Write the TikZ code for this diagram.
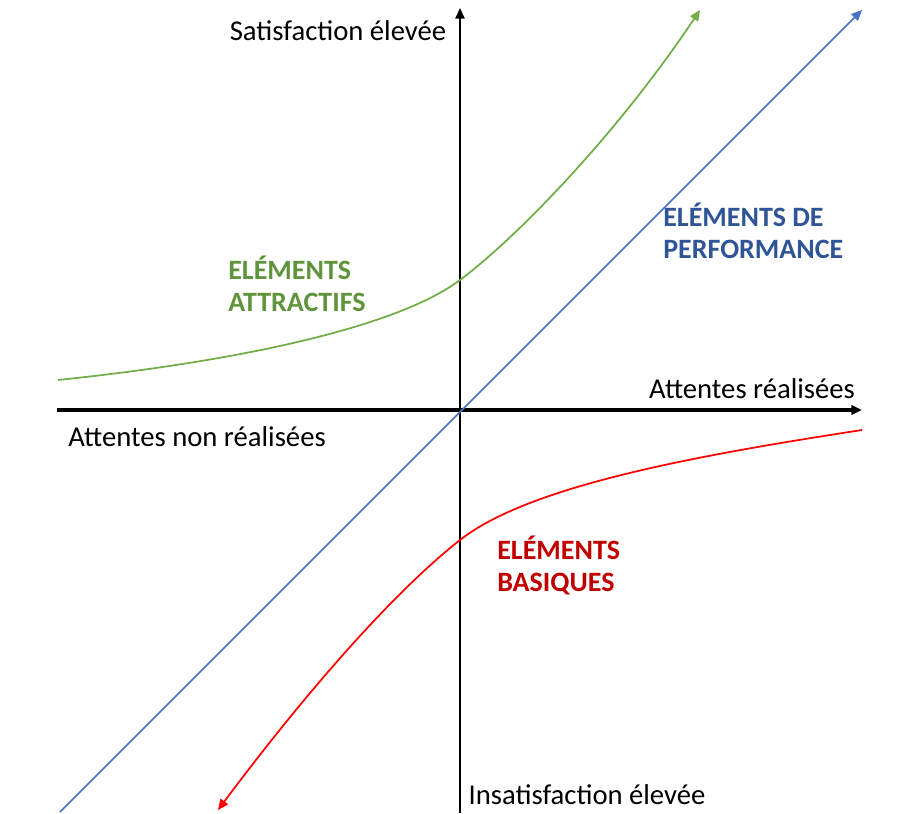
\documentclass[tikz,border=0pt]{standalone}
\usepackage{fontspec}
\setmainfont{Carlito}
\usetikzlibrary{arrows.meta}
\definecolor{ggreen}{HTML}{70AD47}
\definecolor{gblue}{HTML}{4472C4}
\definecolor{lblue}{HTML}{2F5597}
\definecolor{lred}{HTML}{C00000}
\begin{document}
\begin{tikzpicture}[x=0.75pt,y=-0.75pt,
  lbl/.style={font=\fontsize{21.5}{26}\selectfont,inner sep=0pt},
  cat/.style={font=\fontsize{21}{24}\selectfont\bfseries,inner sep=0pt,align=left,anchor=north west},
  tip/.style={-{Triangle[length=8pt,width=7pt]}}]
\useasboundingbox (0,0) rectangle (909,813);
% axes
\coordinate (xs) at (57,410);
\coordinate (xe) at (862,410);
\coordinate (ys) at (460,813);
\coordinate (ye) at (460,8);
\draw[tip,line width=2.6pt] (xs) -- (xe);
\draw[tip,line width=1.2pt] (ys) -- (ye);
% performance line
\coordinate (bs) at (60,812);
\coordinate (be) at (862,10);
\draw[tip,gblue,line width=1.3pt] (bs) -- (be);
% attractive curve
\coordinate (g0) at (58,380);
\coordinate (g1) at (460,280);
\coordinate (g2) at (700,10);
\draw[tip,ggreen,line width=1.3pt] (g0) .. controls (250,360) and (400,325) .. (g1) .. controls (520,235) and (620,130) .. (g2);
% basic curve
\coordinate (r0) at (862,430);
\coordinate (r1) at (460,540);
\coordinate (r2) at (218,810);
\draw[tip,red,line width=1.3pt] (r0) .. controls (700,455) and (530,485) .. (r1) .. controls (390,595) and (300,700) .. (r2);
% labels
\node[lbl] (sat) at (338,31) {Satisfaction élevée};
\node[lbl] (ar) at (752,389) {Attentes réalisées};
\node[lbl] (anr) at (197,437) {Attentes non réalisées};
\node[lbl] (ins) at (587,795) {Insatisfaction élevée};
\node[cat,text=ggreen!85!black] (attr) at (228,256) {ELÉMENTS\\ATTRACTIFS};
\node[cat,text=lblue] (perf) at (663,203) {ELÉMENTS DE\\PERFORMANCE};
\node[cat,text=lred] (bas) at (497,536) {ELÉMENTS\\BASIQUES};
\end{tikzpicture}
\end{document}
